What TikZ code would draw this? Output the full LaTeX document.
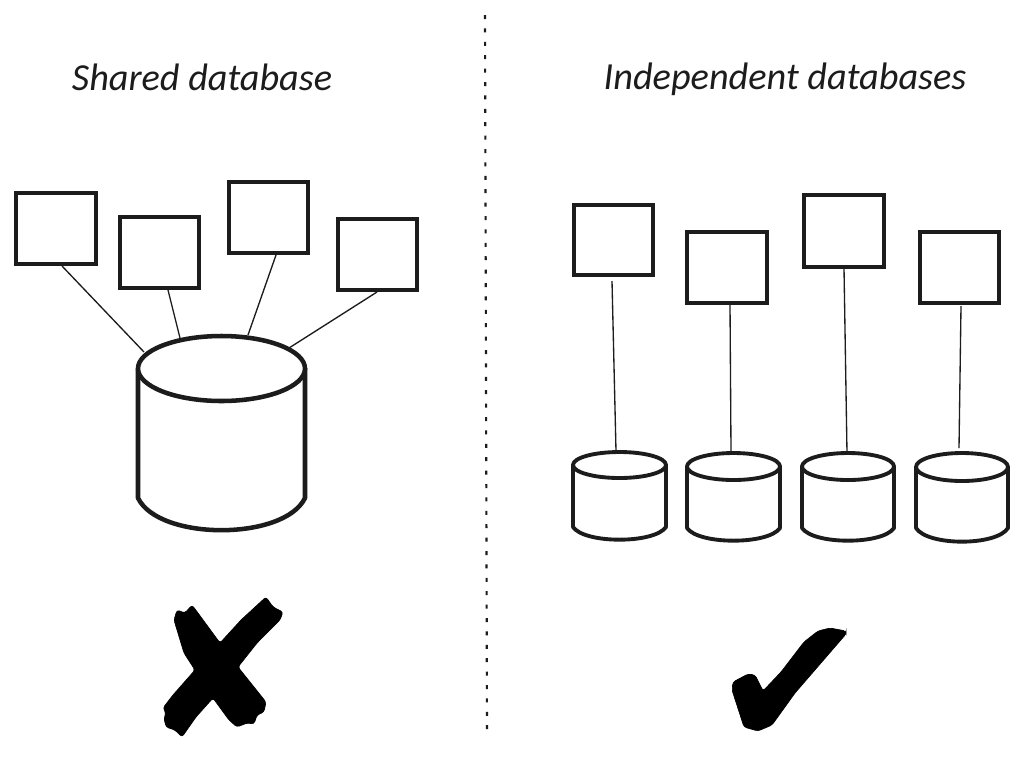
\documentclass[tikz,border=0pt]{standalone}
\usepackage{graphicx}
\usepackage{fontspec}
\setmainfont{Carlito}
\usetikzlibrary{calc}
\definecolor{ink}{HTML}{1C1C1C}
\tikzset{
  sketchbox/.style={draw=ink,line width=3pt,fill=white,inner sep=0pt,outer sep=0pt},
  dbframe/.style={inner sep=0pt,outer sep=0pt},
  bigline/.style={draw=ink,line width=3.4pt,line cap=round,line join=round},
  smallline/.style={draw=ink,line width=2.9pt,line cap=round,line join=round},
  wire/.style={draw=ink,line width=1pt},
  divider/.style={draw=ink,line width=1.6pt,dash pattern=on 3pt off 7.05pt},
  heading/.style={text=ink,font=\itshape,inner sep=0pt,anchor=base},
  solidmark/.style={fill=black,draw=black,line width=0.5pt,rounded corners=2pt}
}
\newcommand{\svcbox}[5]{\node[sketchbox,minimum width={(#4-#2)*0.75pt},minimum height={(#5-#3)*0.75pt}] (#1) at ({(#2+#4)/2},{(#3+#5)/2}) {};}
% name, x0, x1, top, ellipse bottom, side bottom, bottom, style
\newcommand{\dbshape}[8]{%
  \pgfmathsetmacro{\cxx}{(#2+#3)/2}\pgfmathsetmacro{\ryy}{(#5-#4)/2}\pgfmathsetmacro{\myy}{(#4+#5)/2}\pgfmathsetmacro{\rxx}{(#3-#2)/2}%
  \pgfmathsetmacro{\kxx}{0.552*\rxx}\pgfmathsetmacro{\kyy}{0.552*\ryy}%
  \node[dbframe,minimum width={(#3-#2)*0.75pt},minimum height={(#7-#4)*0.75pt}] (#1) at ({\cxx},{(#4+#7)/2}) {};
  \draw[#8,fill=white] (#2,\myy) -- (#2,#6) .. controls ({#2+0.25*\rxx},{#7+0.3*(#7-#6)}) and ({#3-0.25*\rxx},{#7+0.3*(#7-#6)}) .. (#3,#6) -- (#3,\myy) -- cycle;
  \draw[#8,fill=white] (#2,\myy) .. controls (#2,{\myy-\kyy}) and ({\cxx-\kxx},#4) .. (\cxx,#4) .. controls ({\cxx+\kxx},#4) and (#3,{\myy-\kyy}) .. (#3,\myy) .. controls (#3,{\myy+\kyy}) and ({\cxx+\kxx},#5) .. (\cxx,#5) .. controls ({\cxx-\kxx},#5) and (#2,{\myy+\kyy}) .. cycle;
}
\begin{document}
\begin{tikzpicture}[x=0.75pt,y=-0.75pt]
\useasboundingbox[fill=white] (0,0) rectangle (1024,765);
% divider
\coordinate (divtop) at (485,15);
\coordinate (divbot) at (487,732);
\draw[divider] (divtop) -- (divbot);
% headings
\node[heading] (lefttitle) at (202,90) {\resizebox{195pt}{!}{Shared database}};
\node[heading] (righttitle) at (785,89) {\resizebox{272pt}{!}{Independent databases}};
% left databases and services
\dbshape{db}{138}{305}{336}{401}{498}{531}{bigline}
\svcbox{s1}{16}{193}{96}{264}
\svcbox{s2}{120}{217}{199}{288}
\svcbox{s3}{229}{182}{308}{253}
\svcbox{s4}{338}{219}{417}{290}
\draw[wire] ($(s1.south)+(6,2)$) -- ($(db.north)+(-77.5,16)$);
\draw[wire] ($(s2.south)+(8.5,2)$) -- ($(db.north)+(-41.5,2)$);
\draw[wire] ($(s3.south)+(7.5,2)$) -- ($(db.north)+(26.5,-1)$);
\draw[wire] ($(s4.south)+(-0.5,2)$) -- ($(db.north)+(67.5,12)$);
% right databases and services
\dbshape{d1}{573}{666}{452}{478}{527}{540}{smallline}
\dbshape{d2}{687}{780}{453}{480}{528}{541}{smallline}
\dbshape{d3}{802}{894}{453}{480}{528}{541}{smallline}
\dbshape{d4}{916}{1008}{453}{481}{528}{542}{smallline}
\svcbox{r1}{574}{205}{653}{275}
\svcbox{r2}{687}{232}{767}{303}
\svcbox{r3}{804}{195}{884}{267}
\svcbox{r4}{920}{232}{999}{303}
\draw[wire] ($(r1.south)+(-1.5,6)$) -- ($(d1.north)+(-3.5,-1)$);
\draw[wire] ($(r2.south)+(3,1)$) -- ($(d2.north)+(-2.5,-2)$);
\draw[wire] ($(r3.south)+(0,1)$) -- ($(d3.north)+(-1,0)$);
\draw[wire] ($(r4.south)+(1.5,3)$) -- ($(d4.north)+(-3,-5)$);
% cross
\draw[solidmark] (266,597) -- (273,607) -- (283,612) -- (280,620) -- (257,643) -- (238,667) -- (266,702) -- (264,712) -- (257,715) -- (254,724) -- (247,723) -- (237,727) -- (229,720) -- (213,698) -- (196,717) -- (182,737) -- (175,730) -- (166,727) -- (164,718) -- (166,713) -- (163,708) -- (173,695) -- (195,670) -- (184,653) -- (174,620) -- (177,610) -- (185,613) -- (192,605) -- (198,613) -- (220,643) -- (241,620) -- cycle;
% check
\draw[solidmark] (846,631) -- (830,628) -- (818,631) -- (804,642) -- (781,672) -- (763,691) -- (755,675) -- (748,674) -- (733,682) -- (732,690) -- (744,727) -- (758,731) -- (772,725) -- (795,693) -- (846,634) -- cycle;
\end{tikzpicture}
\end{document}
